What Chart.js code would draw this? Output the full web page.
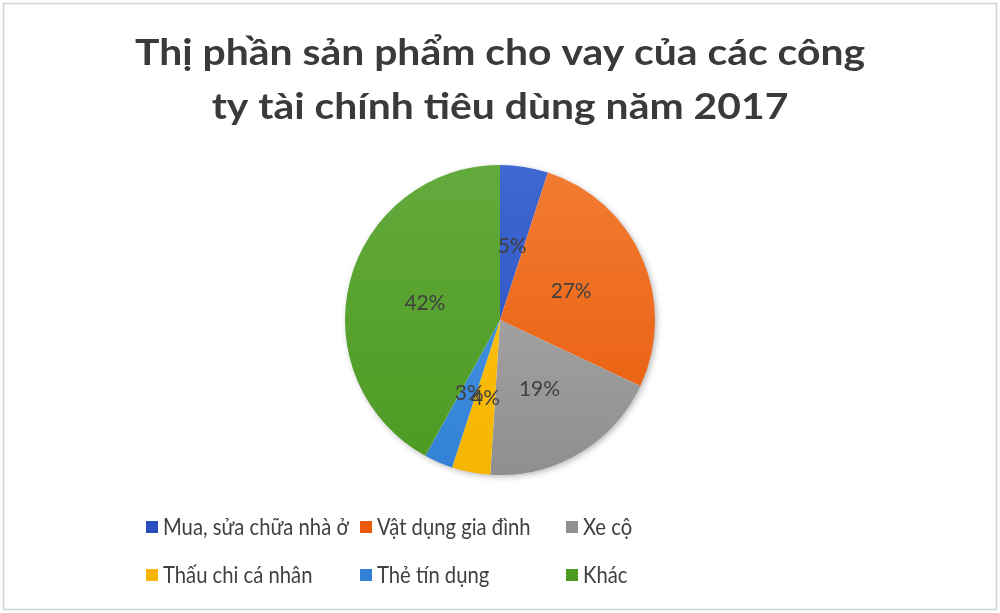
<!DOCTYPE html>
<html lang="vi">
  <head>
    <meta charset="UTF-8" />
    <title>Thị phần sản phẩm cho vay</title>
    <style>
      html, body { margin: 0; padding: 0; background: #fff; }
      #wrap { width: 1000px; height: 613px; }
    </style>
  </head>
  <body>
    <div id="wrap"><canvas id="myChart" width="1000" height="613"></canvas></div>
    <script src="https://cdn.jsdelivr.net/npm/chart.js"></script>
    <script>
      const titleLines = ["Thị phần sản phẩm cho vay của các công", "ty tài chính tiêu dùng năm 2017"];
      const categories = ["Mua, sửa chữa nhà ở", "Vật dụng gia đình", "Xe cộ", "Thấu chi cá nhân", "Thẻ tín dụng", "Khác"];
      const shares = [5, 27, 19, 4, 3, 42];
      // top / bottom colour of each slice (Excel-like gradient)
      const topColors = ["#3f68d2", "#f27c32", "#b1b1b1", "#ffc414", "#4b9be6", "#63aa3c"];
      const bottomColors = ["#2a4cbc", "#e95a0a", "#8f8f8f", "#f5b500", "#3381d6", "#4c9a22"];

      const canvas = document.getElementById("myChart");
      const ctx = canvas.getContext("2d");

      const sliceFill = (context) => {
        const area = context.chart.chartArea;
        const i = context.dataIndex;
        if (!area) return bottomColors[i];
        const g = context.chart.ctx.createLinearGradient(0, area.top, 0, area.bottom);
        g.addColorStop(0, topColors[i]);
        g.addColorStop(1, bottomColors[i]);
        return g;
      };

      // text squeezed/stretched horizontally so it looks like Calibri
      const drawScaled = (c, text, x, y, sx, align) => {
        c.save();
        c.translate(x, y);
        c.scale(sx, 1);
        c.textAlign = align;
        c.fillText(text, 0, 0);
        c.restore();
      };

      //frame, title, shadow, labels and legend
      const decorations = {
        id: "decorations",
        beforeDraw: (chart) => {
          const c = chart.ctx;
          c.save();
          c.strokeStyle = "#d2d2d2";
          c.lineWidth = 1.5;
          c.strokeRect(3.5, 3.5, 993, 606);
          c.fillStyle = "#3a3a3a";
          c.font = "bold 36px Lato";
          c.textBaseline = "alphabetic";
          const sx = 730 / c.measureText(titleLines[0]).width;
          drawScaled(c, titleLines[0], 500, 65, sx, "center");
          drawScaled(c, titleLines[1], 500, 119, sx, "center");
          c.restore();
        },
        beforeDatasetsDraw: (chart) => {
          const arc = chart.getDatasetMeta(0).data[0];
          if (!arc) return;
          const c = chart.ctx;
          c.save();
          c.shadowColor = "rgba(0,0,0,0.35)";
          c.shadowBlur = 7;
          c.shadowOffsetX = 2;
          c.shadowOffsetY = 2;
          c.fillStyle = "#ffffff";
          c.beginPath();
          c.arc(arc.x, arc.y, arc.outerRadius - 1, 0, Math.PI * 2);
          c.fill();
          c.restore();
        },
        afterDatasetsDraw: (chart) => {
          const c = chart.ctx;
          const meta = chart.getDatasetMeta(0);
          c.save();
          c.fillStyle = "#404040";
          c.font = "22px Lato";
          c.textBaseline = "middle";
          meta.data.forEach((a, i) => {
            const mid = (a.startAngle + a.endAngle) / 2;
            const r = a.outerRadius * 0.5;
            drawScaled(c, shares[i] + "%", a.x + Math.cos(mid) * r, a.y + Math.sin(mid) * r + 2, 0.95, "center");
          });

          // legend, 3 columns x 2 rows
          const colX = [146, 360, 566];
          const rowY = [527, 575];
          c.font = "23px Lato";
          categories.forEach((name, i) => {
            const x = colX[i % 3];
            const y = rowY[Math.floor(i / 3)];
            c.fillStyle = bottomColors[i];
            c.fillRect(x, y - 6, 12, 12);
            c.fillStyle = "#404040";
            drawScaled(c, name, x + 17, y + 1, 0.88, "left");
          });
          c.restore();
        },
      };

      let myChart = new Chart(ctx, {
        type: "pie",
        plugins: [decorations],
        data: {
          labels: categories,
          datasets: [
            {
              data: shares,
              backgroundColor: sliceFill,
              borderWidth: 0,
            },
          ],
        },
        options: {
          responsive: false,
          animation: false,
          layout: { padding: { top: 165, bottom: 138, left: 0, right: 0 } },
          plugins: {
            legend: { display: false },
            title: { display: false },
            tooltip: { enabled: false },
          },
        },
      });
    </script>
  </body>
</html>
